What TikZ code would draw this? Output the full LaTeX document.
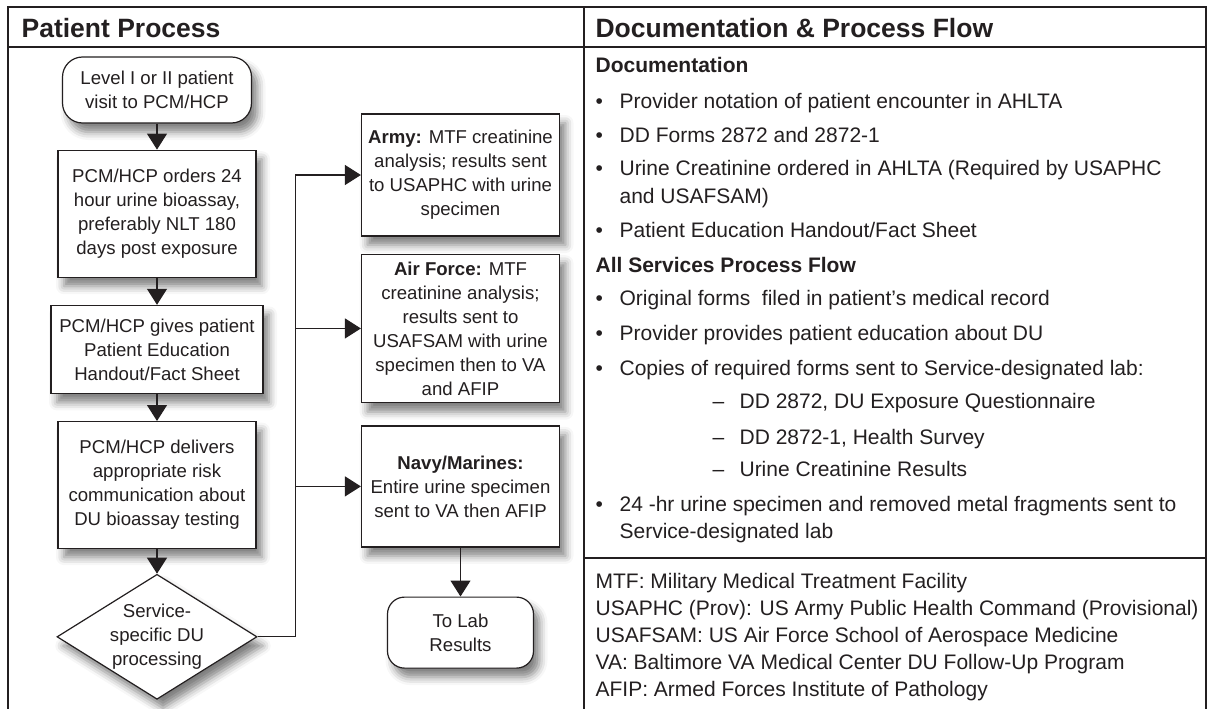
\documentclass[tikz,border=0pt]{standalone}
\usepackage{fontspec}
\setmainfont{Liberation Sans}
\usepackage{xcolor}
\usepackage{tikz}
\usetikzlibrary{arrows.meta}
\usetikzlibrary{shapes.geometric}
\usetikzlibrary{positioning}
\usetikzlibrary{shadows.blur}
\definecolor{ink}{HTML}{231F20}
\newcommand{\flowfont}{\fontsize{18.6}{24}\selectfont}
\newcommand{\docfont}{\fontsize{21}{27}\selectfont}
\newcommand{\headfont}{\fontsize{26.5}{30}\selectfont\bfseries}
\newcommand{\bul}{\makebox[24pt][l]{•}}
\newcommand{\dsh}{\makebox[27pt][l]{--}}

\begin{document}
\begin{tikzpicture}[-,>={Triangle[length=16pt,width=20pt]},x=1pt,y=1pt,
                    color=ink,line width=1.2pt]
  \tikzstyle{procbox}=[draw, rectangle, fill=white, font=\flowfont, align=center,
                       inner sep=0pt, blur shadow={shadow xshift=6pt, shadow yshift=-9pt,
                       shadow blur radius=8pt, shadow opacity=50}]
  \tikzstyle{termbox}=[procbox, rounded corners=20pt]
  \tikzstyle{decbox}=[procbox, diamond, aspect=1.6]
  \tikzstyle{doctext}=[anchor=base west, inner sep=0pt, font=\docfont]
  \tikzstyle{dochead}=[anchor=base west, inner sep=0pt, font=\docfont\bfseries]
  \useasboundingbox (0,0) rectangle (1207,-709);

  % frame of the table
  \draw[line width=2pt] (8,-720) -- (8,-7) -- (1206,-7) -- (1206,-720);
  \draw[line width=2pt] (8,-46.7) -- (1206,-46.7);
  \draw[line width=2pt] (583.6,-7) -- (583.6,-720);
  \draw[line width=2pt] (583.6,-557.8) -- (1206,-557.8);
  \node[anchor=base west, inner sep=0pt, font=\headfont] (lefthead) at (21,-37.5) {Patient Process};
  \node[anchor=base west, inner sep=0pt, font=\headfont] (righthead) at (595,-37.5) {Documentation \& Process Flow};

  % patient process
  \node[termbox, minimum width=189pt, minimum height=66pt] (start) at (157,-90) {Level I or II patient\\visit to PCM/HCP};
  \node[procbox, minimum width=198pt, minimum height=127pt] (orders) [below=26pt of start] {PCM/HCP orders 24\\hour urine bioassay,\\preferably NLT 180\\days post exposure};
  \node[procbox, minimum width=212pt, minimum height=88pt] (gives) [below=27pt of orders] {PCM/HCP gives patient\\Patient Education\\Handout/Fact Sheet};
  \node[procbox, minimum width=198pt, minimum height=126.5pt] (delivers) [below=27pt of gives] {PCM/HCP delivers\\appropriate risk\\communication about\\DU bioassay testing};
  \node[decbox, minimum width=200pt, minimum height=125pt] (service) [below=25pt of delivers] {Service-\\specific DU\\processing};

  \node[procbox, minimum width=198pt, minimum height=122pt] (army) at (460.5,-175) {\textbf{Army:} MTF creatinine\\analysis; results sent\\to USAPHC with urine\\specimen};
  \node[procbox, minimum width=198pt, minimum height=148.5pt] (airforce) [below=17pt of army] {\textbf{Air Force:} MTF\\creatinine analysis;\\results sent to\\USAFSAM with urine\\specimen then to VA\\and AFIP};
  \node[procbox, minimum width=198pt, minimum height=121pt] (navy) [below=22pt of airforce] {\textbf{Navy/Marines:}\\Entire urine specimen\\sent to VA then AFIP};
  \node[termbox, minimum width=146pt, minimum height=71pt, rounded corners=17pt] (lab) [below=49pt of navy] {To Lab\\Results};

  \path[->] (start) edge (orders)
            (orders) edge (gives)
            (gives) edge (delivers)
            (delivers) edge (service)
            (navy) edge (lab);
  \draw[->] (service.east) -- ([xshift=38pt]service.east) coordinate (trunk) |- (army.west);
  \draw[->] (trunk |- airforce.west) -- (airforce.west);
  \draw[->] (trunk |- navy.west) -- (navy.west);

  % documentation & process flow
  \node[dochead] (dochd) at (595,-72) {Documentation};
  \node[doctext] (doc1) at (595,-108) {\bul Provider notation of patient encounter in AHLTA};
  \node[doctext] (doc2) at (595,-142) {\bul DD Forms 2872 and 2872-1};
  \node[doctext] (doc3) at (595,-175) {\bul Urine Creatinine ordered in AHLTA (Required by USAPHC};
  \node[doctext] (doc3b) at (619,-203) {and USAFSAM)};
  \node[doctext] (doc4) at (595,-237) {\bul Patient Education Handout/Fact Sheet};
  \node[dochead] (flowhd) at (595,-272) {All Services Process Flow};
  \node[doctext] (flow1) at (595,-305) {\bul Original forms\ \ filed in patient’s medical record};
  \node[doctext] (flow2) at (595,-340) {\bul Provider provides patient education about DU};
  \node[doctext] (flow3) at (595,-375) {\bul Copies of required forms sent to Service-designated lab:};
  \node[doctext] (form1) at (712,-408.5) {\dsh DD 2872, DU Exposure Questionnaire};
  \node[doctext] (form2) at (712,-444) {\dsh DD 2872-1, Health Survey};
  \node[doctext] (form3) at (712,-476.7) {\dsh Urine Creatinine Results};
  \node[doctext] (flow4) at (595,-511.6) {\bul 24 -hr urine specimen and removed metal fragments sent to};
  \node[doctext] (flow4b) at (619,-538) {Service-designated lab};

  % abbreviations
  \node[doctext] (abbr1) at (595,-588) {MTF: Military Medical Treatment Facility};
  \node[doctext] (abbr2) at (595,-615.6) {USAPHC (Prov): US Army Public Health Command (Provisional)};
  \node[doctext] (abbr3) at (595,-642) {USAFSAM: US Air Force School of Aerospace Medicine};
  \node[doctext] (abbr4) at (595,-669.5) {VA: Baltimore VA Medical Center DU Follow-Up Program};
  \node[doctext] (abbr5) at (595,-696) {AFIP: Armed Forces Institute of Pathology};
\end{tikzpicture}
\end{document}
